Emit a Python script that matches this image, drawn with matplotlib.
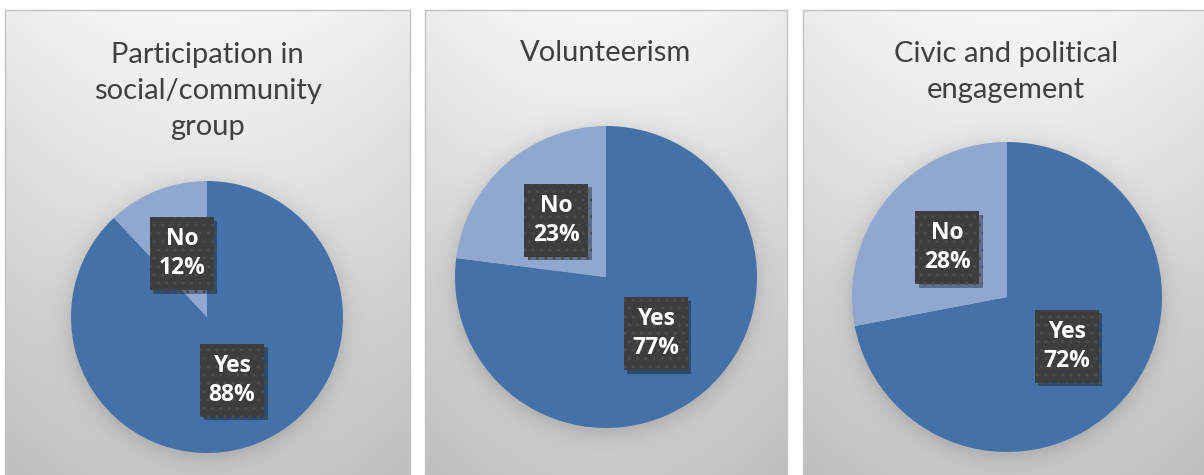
import numpy as np
import matplotlib
matplotlib.use("Agg")
import matplotlib.pyplot as plt
from matplotlib.patches import Rectangle
import matplotlib.patheffects as pe

# ---- data ----
titles = ["Participation in\nsocial/community\ngroup",
          "Volunteerism",
          "Civic and political\nengagement"]
categories = ["Yes", "No"]
yes_pct = [88, 77, 72]
no_pct = [12, 23, 28]

# ---- styling ----
YES_COLOR = "#4472a8"
NO_COLOR = "#90a8d0"
TITLE_COLOR = "#404040"
LABEL_BOX = "#3d3d3d"
LABEL_DOTS = "#4c4c4c"

W, H = 1204, 475
fig = plt.figure(figsize=(W / 100, H / 100), dpi=100)
ax = fig.add_axes([0, 0, 1, 1])

# panel frames in pixel coordinates measured from the top: (left, top, width)
panels = [(5, 10, 405), (425, 10, 362), (803, 10, 405)]
# pie centre (x, y from top) and radius in pixels
pies = [(207, 317, 136), (606, 277, 151), (1007, 297, 155)]
title_centre_y = [91, 53, 72]
box_w, box_h = 64, 73

# ---- gradient panel backgrounds with a soft halo under each pie ----
img = np.ones((H, W, 3))
yy, xx = np.mgrid[0:H, 0:W] + 0.5
for (x0, top, pw), (pcx, pcy, r) in zip(panels, pies):
    x1 = min(x0 + pw, W)
    sub = (slice(top, H), slice(x0, x1))
    cx = x0 + pw / 2
    u = (xx[sub] - cx) / (pw / 2)
    v = (yy[sub] - top) / (H - top)
    val = 0.965 - 0.18 * v - 0.04 * u ** 2
    d = np.hypot(xx[sub] - pcx, yy[sub] - pcy - 3) - r
    halo = 0.09 * np.exp(-np.clip(d, 0, None) / 10.0)
    val = val - halo
    img[sub] = val[..., None]
ax.imshow(img, extent=(0, W, 0, H), origin="upper", zorder=0, interpolation="bilinear")

for x0, top, pw in panels:
    ax.add_patch(Rectangle((x0, -5), pw, H - top + 5, facecolor="none",
                           edgecolor="#c3c3c3", linewidth=1.0, zorder=1))

# ---- pies ----
for i, (pcx, pcy, r) in enumerate(pies):
    values = [yes_pct[i], no_pct[i]]
    labels = [f"{c}\n{v}%" for c, v in zip(categories, values)]
    wedges, texts = ax.pie(values, colors=[YES_COLOR, NO_COLOR], startangle=90,
                           counterclock=False, center=(pcx, H - pcy), radius=r,
                           labels=labels, labeldistance=0.5,
                           wedgeprops=dict(linewidth=0, zorder=2))
    for t in texts:
        tx, ty = t.get_position()
        t.set(ha="center", va="center", color="white", fontweight="bold",
              fontsize=16.5, family="Open Sans", linespacing=1.3, zorder=5)
        box = Rectangle((tx - box_w / 2, ty - box_h / 2), box_w, box_h,
                        facecolor=LABEL_BOX, edgecolor=LABEL_DOTS, linewidth=0,
                        hatch="..", zorder=4)
        box.set_path_effects([pe.SimplePatchShadow(offset=(2.5, -2.5),
                                                   shadow_rgbFace="black", alpha=0.35),
                              pe.Normal()])
        ax.add_patch(box)
    x0, top, pw = panels[i]
    ax.text(x0 + pw / 2 if i < 2 else 1006, H - title_centre_y[i], titles[i],
            ha="center", va="center", fontsize=21, family="Lato",
            color=TITLE_COLOR, linespacing=1.5, zorder=5)

ax.set_xlim(0, W)
ax.set_ylim(0, H)
ax.set_aspect("auto")
ax.axis("off")
fig.savefig("out.png", dpi=100)
